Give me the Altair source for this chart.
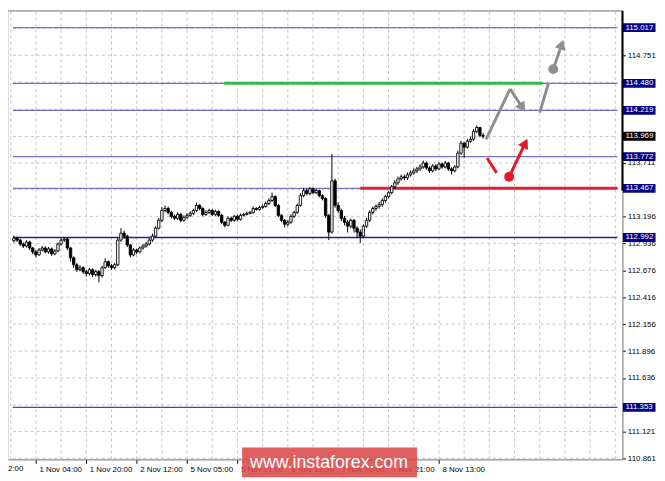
import altair as alt
import pandas as pd

# ---------------- data ----------------
first_open = 112.960
closes = [
    112.986, 112.967, 112.929, 112.910, 112.948, 112.891, 112.853, 112.824, 112.872, 112.891,
    112.853, 112.882, 112.834, 112.862, 112.929, 112.967, 112.977, 112.891, 112.796, 112.729,
    112.681, 112.700, 112.662, 112.643, 112.681, 112.634, 112.662, 112.624, 112.700, 112.758,
    112.719, 112.700, 112.729, 112.967, 113.034, 113.005, 112.920, 112.824, 112.872, 112.853,
    112.891, 112.910, 112.929, 112.967, 113.005, 113.082, 113.158, 113.253, 113.272, 113.234,
    113.196, 113.177, 113.215, 113.158, 113.187, 113.206, 113.225, 113.253, 113.301, 113.272,
    113.215, 113.234, 113.253, 113.215, 113.244, 113.206, 113.139, 113.110, 113.177, 113.158,
    113.196, 113.168, 113.206, 113.215, 113.225, 113.234, 113.272, 113.263, 113.282, 113.292,
    113.320, 113.349, 113.387, 113.301, 113.206, 113.158, 113.120, 113.139, 113.196, 113.234,
    113.301, 113.396, 113.444, 113.415, 113.463, 113.425, 113.444, 113.396, 113.368, 113.206,
    113.044, 113.539, 113.301, 113.253, 113.177, 113.139, 113.101, 113.158, 113.082, 113.044,
    113.005, 113.101, 113.158, 113.234, 113.272, 113.292, 113.311, 113.349, 113.387, 113.425,
    113.482, 113.520, 113.558, 113.577, 113.568, 113.597, 113.616, 113.635, 113.654, 113.673,
    113.711, 113.663, 113.635, 113.682, 113.654, 113.701, 113.673, 113.711, 113.654, 113.635,
    113.673, 113.806, 113.902, 113.864, 113.921, 113.940, 114.016, 114.054, 113.978, 113.969,
]
highs = [
    113.010, 113.000, 112.980, 112.945, 112.965, 112.960, 112.900, 112.870, 112.890, 112.910,
    112.905, 112.900, 112.895, 112.880, 112.945, 112.985, 112.995, 112.990, 112.900, 112.810,
    112.745, 112.725, 112.715, 112.680, 112.700, 112.695, 112.680, 112.675, 112.720, 112.790,
    112.770, 112.735, 112.745, 112.990, 113.082, 113.060, 113.020, 112.930, 112.890, 112.885,
    112.905, 112.930, 112.950, 112.985, 113.030, 113.100, 113.180, 113.285, 113.300, 113.290,
    113.250, 113.215, 113.235, 113.230, 113.205, 113.225, 113.245, 113.270, 113.330, 113.315,
    113.285, 113.255, 113.270, 113.265, 113.260, 113.255, 113.220, 113.150, 113.195, 113.195,
    113.210, 113.210, 113.225, 113.230, 113.240, 113.250, 113.290, 113.285, 113.300, 113.310,
    113.340, 113.370, 113.425, 113.400, 113.315, 113.220, 113.170, 113.160, 113.215, 113.250,
    113.320, 113.420, 113.470, 113.465, 113.480, 113.475, 113.460, 113.455, 113.410, 113.380,
    113.220, 113.797, 113.560, 113.330, 113.270, 113.200, 113.160, 113.175, 113.170, 113.100,
    113.070, 113.120, 113.180, 113.255, 113.290, 113.310, 113.335, 113.370, 113.405, 113.440,
    113.500, 113.545, 113.580, 113.600, 113.600, 113.620, 113.640, 113.660, 113.675, 113.700,
    113.735, 113.725, 113.680, 113.700, 113.700, 113.720, 113.715, 113.730, 113.720, 113.670,
    113.690, 113.830, 113.925, 113.915, 113.945, 113.965, 114.040, 114.073, 114.060, 114.000,
]
lows = [
    112.945, 112.950, 112.910, 112.890, 112.895, 112.870, 112.830, 112.800, 112.815, 112.860,
    112.840, 112.835, 112.815, 112.820, 112.850, 112.915, 112.950, 112.870, 112.760, 112.700,
    112.660, 112.665, 112.640, 112.615, 112.625, 112.610, 112.615, 112.558, 112.605, 112.690,
    112.700, 112.680, 112.685, 112.715, 112.950, 112.980, 112.900, 112.800, 112.810, 112.830,
    112.840, 112.875, 112.895, 112.915, 112.950, 112.990, 113.070, 113.140, 113.235, 113.215,
    113.175, 113.160, 113.160, 113.140, 113.145, 113.170, 113.190, 113.210, 113.240, 113.255,
    113.195, 113.200, 113.220, 113.200, 113.200, 113.190, 113.120, 113.090, 113.100, 113.140,
    113.145, 113.150, 113.155, 113.195, 113.205, 113.215, 113.220, 113.250, 113.250, 113.270,
    113.280, 113.305, 113.335, 113.285, 113.190, 113.140, 113.090, 113.100, 113.125, 113.180,
    113.220, 113.290, 113.380, 113.400, 113.400, 113.410, 113.410, 113.380, 113.350, 113.180,
    112.967, 113.030, 113.280, 113.230, 113.150, 113.110, 113.040, 113.080, 113.040, 112.990,
    112.939, 112.990, 113.085, 113.140, 113.215, 113.250, 113.270, 113.290, 113.330, 113.370,
    113.410, 113.460, 113.500, 113.540, 113.545, 113.550, 113.580, 113.600, 113.615, 113.635,
    113.655, 113.645, 113.615, 113.620, 113.635, 113.640, 113.655, 113.660, 113.635, 113.600,
    113.620, 113.660, 113.790, 113.759, 113.850, 113.905, 113.925, 114.000, 113.960, 113.945,
]

x_tick_bars = [7, 23, 39, 55, 71, 87, 103, 119, 135]
x_tick_labels = ["1 Nov 04:00", "1 Nov 20:00", "2 Nov 12:00", "5 Nov 05:00", "5 Nov 21:00",
                 "6 Nov 13:00", "7 Nov 05:00", "7 Nov 21:00", "8 Nov 13:00"]
x_grid_bars = [-1, 7, 15, 23, 31, 39, 47, 55, 63, 71, 79, 87, 95, 103, 111, 119, 127, 135,
               143, 151, 159, 167, 175, 183, 191]

y_label_values = [110.861, 111.121, 111.636, 111.896, 112.156, 112.416, 112.676, 112.936,
                  113.196, 113.711, 114.751]
y_grid_values = [110.861, 111.121, 111.376, 111.636, 111.896, 112.156, 112.416, 112.676,
                 112.936, 113.196, 113.456, 113.711, 113.966, 114.226, 114.491, 114.751, 115.011]

levels = [115.017, 114.480, 114.219, 113.772, 113.467, 112.992, 111.353]
level_colors = ["#7575c8", "#6e6ec4", "#6e6ec4", "#7575c8", "#7575c8", "#1f1f9a", "#4646ae"]
current_price = 113.969

# forecast annotations (bar index, price)
grey_segments = [
    (149.96, 113.940, 157.6, 114.426),
    (157.6, 114.426, 161.5, 114.245),
    (167.0, 114.197, 169.8, 114.483),
    (171.3, 114.617, 174.0, 114.855),
]
red_segments = [
    (150.3, 113.759, 153.3, 113.616),
    (157.3, 113.578, 162.4, 113.902),
]
dots = [(171.3, 114.617, "#8e8e8e"), (157.3, 113.578, "#e5182b")]
heads = [(161.5, 114.245, 147, "#8e8e8e"), (174.0, 114.855, 19, "#8e8e8e"),
         (162.4, 113.902, 27, "#e5182b")]
green_line = (66.75, 167.9, 114.480)
red_line = (110.0, 191.7, 113.467)

# ---------------- frames ----------------
opens = [first_open] + closes[:-1]
df = pd.DataFrame({"i": list(range(len(closes))), "open": opens, "close": closes,
                   "high": highs, "low": lows})
df["fill"] = ["white" if c >= o else "black" for o, c in zip(opens, closes)]

W, H = 622, 454
FONT = "Liberation Sans"
xs = alt.Scale(domain=[-0.3, 191.7], nice=False, zero=False)
ys = alt.Scale(domain=[110.851, 115.179], nice=False, zero=False)

label_expr = ("[" + ",".join("'%s'" % s for s in x_tick_labels) + "][indexof(["
              + ",".join(str(b) for b in x_tick_bars) + "], datum.value)]")

XA = alt.Axis(values=x_tick_bars, labelExpr=label_expr, labelAlign="left", labelOffset=3,
              labelFontSize=8, labelFont=FONT, labelColor="black", tickSize=4,
              tickColor="black", domainColor="#808080", labelPadding=2, grid=False,
              labelFlush=False, labelOverlap=False, title=None, orient="bottom")
YA = alt.Axis(values=y_label_values, format=".3f", labelFontSize=8, labelFont=FONT,
              labelColor="black", tickSize=3, tickColor="black", domainColor="#808080",
              labelPadding=2, grid=False, title=None, orient="right", labelFlush=False,
              labelOverlap=False)


def X(f):
    return alt.X(f, scale=xs, axis=XA, title=None)


def Y(f):
    return alt.Y(f, scale=ys, axis=YA, title=None)


# grids
vgrid = alt.Chart(pd.DataFrame({"x": x_grid_bars, "y0": [110.851] * len(x_grid_bars),
                                "y1": [115.179] * len(x_grid_bars)})).mark_rule(
    color="#c4c4c4", strokeDash=[3, 3], strokeWidth=1).encode(x=X("x:Q"), y=Y("y0:Q"), y2="y1:Q")
hgrid = alt.Chart(pd.DataFrame({"y": y_grid_values, "x0": [-0.3] * len(y_grid_values),
                                "x1": [191.7] * len(y_grid_values)})).mark_rule(
    color="#c4c4c4", strokeDash=[3, 3], strokeWidth=1).encode(y=Y("y:Q"), x=X("x0:Q"), x2="x1:Q")

# level lines
lv = pd.DataFrame({"y": levels, "c": level_colors,
                   "x0": [-0.3] * len(levels), "x1": [191.7] * len(levels)})
level_rules = alt.Chart(lv).mark_rule(strokeWidth=1.3).encode(
    y=Y("y:Q"), x=X("x0:Q"), x2="x1:Q", color=alt.Color("c:N", scale=None))

# green and red horizontal lines
hl = pd.DataFrame({"x": [green_line[0], red_line[0]], "x2": [green_line[1], red_line[1]],
                   "y": [green_line[2], red_line[2]], "c": ["#33b94a", "#e3202c"]})
hlines = alt.Chart(hl).mark_rule(strokeWidth=3).encode(
    x=X("x:Q"), x2="x2:Q", y=Y("y:Q"), color=alt.Color("c:N", scale=None))

# candles
wicks = alt.Chart(df).mark_rule(color="black", strokeWidth=1).encode(
    x=X("i:Q"), y=Y("low:Q"), y2="high:Q")
bodies = alt.Chart(df).mark_bar(size=2.4, stroke="black", strokeWidth=0.9).encode(
    x=X("i:Q"), y=Y("open:Q"), y2="close:Q", fill=alt.Fill("fill:N", scale=None))

# forecast arrows
seg_rows = [dict(x=a, y=b, x2=c, y2=d, c="#8e8e8e") for a, b, c, d in grey_segments] + \
           [dict(x=a, y=b, x2=c, y2=d, c="#e5182b") for a, b, c, d in red_segments]
segs = alt.Chart(pd.DataFrame(seg_rows)).mark_rule(strokeWidth=3).encode(
    x=X("x:Q"), x2="x2:Q", y=Y("y:Q"), y2="y2:Q", color=alt.Color("c:N", scale=None))
dot_layer = alt.Chart(pd.DataFrame(dots, columns=["x", "y", "c"])).mark_point(
    shape="circle", filled=True, size=100, opacity=1).encode(
    x=X("x:Q"), y=Y("y:Q"), color=alt.Color("c:N", scale=None))
head_layer = alt.Chart(pd.DataFrame(heads, columns=["x", "y", "a", "c"])).mark_point(
    shape="triangle-up", filled=True, size=130, opacity=1).encode(
    x=X("x:Q"), y=Y("y:Q"), angle=alt.Angle("a:Q", scale=None), color=alt.Color("c:N", scale=None))

# frame pieces
top_border = alt.Chart(pd.DataFrame({"d": [0]})).mark_rule(color="#808080").encode(
    x=alt.value(0), x2=alt.value(W), y=alt.value(0))
right_black = alt.Chart(pd.DataFrame({"d": [0]})).mark_rule(color="black", strokeWidth=2).encode(
    x=alt.value(W), y=alt.value(0), y2=alt.value(182))

# price labels
lab_df = pd.DataFrame({"y": levels + [current_price],
                       "t": ["%.3f" % v for v in levels] + ["%.3f" % current_price],
                       "bg": ["#000080"] * len(levels) + ["#000000"]})
box_path = "M-1,-0.27L1,-0.27L1,0.27L-1,0.27Z"
lab_boxes = alt.Chart(lab_df).mark_point(shape=box_path, filled=True, size=1089, opacity=1).encode(
    x=alt.value(W + 17), y=Y("y:Q"), color=alt.Color("bg:N", scale=None))
lab_text = alt.Chart(lab_df).mark_text(align="left", baseline="middle", fontSize=8, font=FONT,
                                       color="white").encode(
    x=alt.value(W + 3), y=Y("y:Q"), text="t:N")

partial = alt.Chart(pd.DataFrame({"t": ["2:00"]})).mark_text(
    align="left", baseline="top", fontSize=8, font=FONT, color="black").encode(
    x=alt.value(0), y=alt.value(H + 6), text="t:N")

# watermark
wm_rect = alt.Chart(pd.DataFrame({"d": [0]})).mark_rect(color="#dc4a4a", opacity=0.88).encode(
    x=alt.value(237), x2=alt.value(414), y=alt.value(442), y2=alt.value(472))
wm_text = alt.Chart(pd.DataFrame({"t": ["www.instaforex.com"]})).mark_text(
    align="center", baseline="middle", fontSize=18, font=FONT, color="white").encode(
    x=alt.value(325), y=alt.value(458), text="t:N")

chart = alt.layer(
    vgrid, hgrid, level_rules, hlines, wicks, bodies, segs, dot_layer, head_layer,
    top_border, right_black, lab_boxes, lab_text, partial, wm_rect, wm_text
).properties(
    width=W, height=H, autosize=alt.AutoSizeParams(type="none"),
    padding={"left": 0, "top": 0, "right": 35, "bottom": 20}
).configure_view(stroke=None).configure(background="white")

chart.save("out.html", embed_options={"renderer": "svg", "actions": False})
